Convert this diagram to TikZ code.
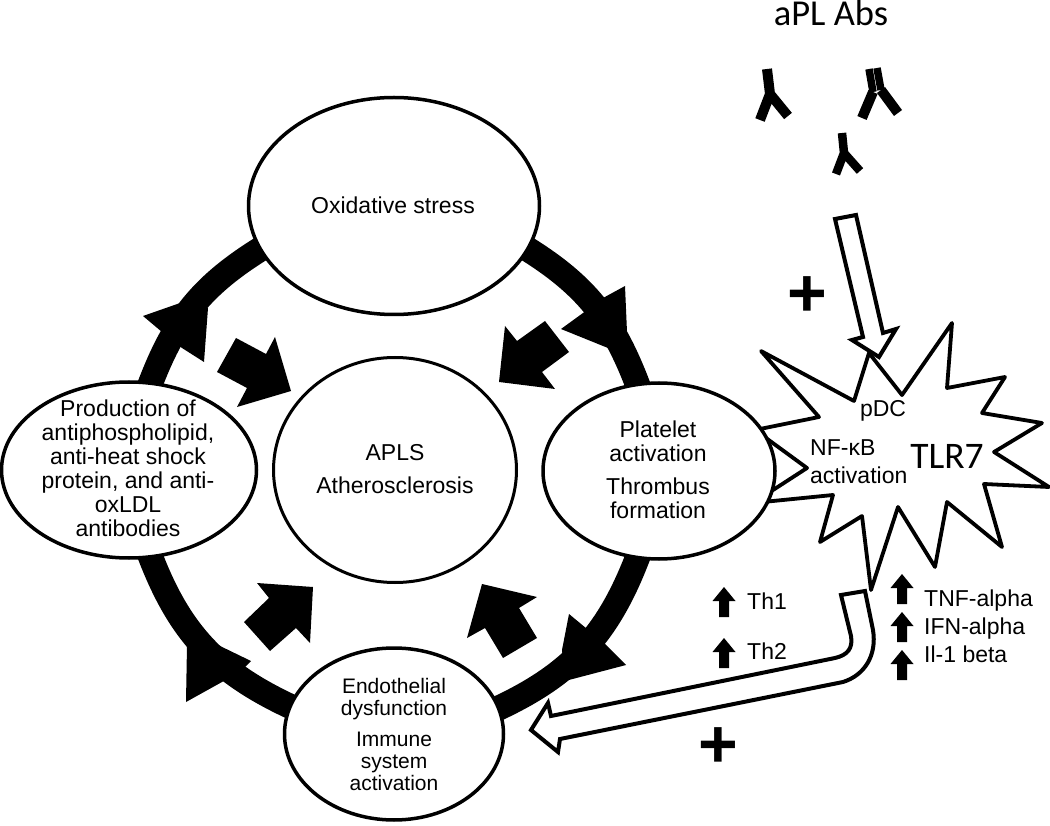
\documentclass[tikz,border=0pt]{standalone}
\usepackage{fontspec}
\setmainfont{Liberation Sans}
\newfontfamily\calibri{Carlito}
\usetikzlibrary{shapes.geometric,backgrounds}
\tikzset{
    ellnode/.style={ellipse,draw=black,fill=white,line width=3.5pt,inner sep=0pt},
    txt/.style={font=\fontsize{23}{24}\selectfont,align=center,inner sep=0pt},
    bigtxt/.style={font=\calibri\fontsize{36.5}{38}\selectfont,inner sep=0pt,anchor=base},
    plussign/.style={font=\bfseries\fontsize{68}{68}\selectfont,inner sep=0pt},
    ringarc/.style={line width=25pt,draw=black,shorten <=-12pt,shorten >=-12pt},
    openarr/.style={draw=black,fill=white,line width=4pt,line join=miter,miter limit=4},
    antibody/.style={draw=black,line width=10pt,line join=round},
    uparr/.pic={\fill[black] (0,0) -- (11.5,14) -- (5,14) -- (5,30) -- (-5,30) -- (-5,14) -- (-11.5,14) -- cycle;},
}
\begin{document}
\begin{tikzpicture}[x=1pt,y=-1pt]
    \useasboundingbox (0,0) rectangle (1050,826);

    % Define nodes
    \node[ellnode,minimum width=291pt,minimum height=217pt] (oxid) at (394,206) {};
    \node[ellnode,minimum width=232pt,minimum height=176pt] (plat) at (659,471) {};
    \node[ellnode,minimum width=219pt,minimum height=172pt] (endo) at (394,734) {};
    \node[ellnode,minimum width=255pt,minimum height=176pt] (prod) at (129,470) {};
    \node[ellnode,line width=3pt,minimum width=243pt,minimum height=225pt] (apls) at (395,470) {};

    % Texts of the ellipses
    \node[txt,anchor=base] (oxidtxt) at (393,214) {Oxidative stress};
    \node[txt] (plattxt) at (658,470) {Platelet\\activation\\[9pt]Thrombus\\formation};
    \node[txt,font=\fontsize{21}{22}\selectfont] (endotxt) at (394,734) {Endothelial\\dysfunction\\[9pt]Immune\\system\\activation};
    \node[txt] (prodtxt) at (128,468.5) {Production of\\antiphospholipid,\\anti-heat shock\\protein, and anti-\\oxLDL\\antibodies};
    \node[txt] (aplstxt) at (395,469) {APLS\\[9pt]Atherosclerosis};

    % Draw the ring
    \begin{scope}[on background layer]
        \draw[ringarc] (oxid.-18) to[out=-31,in=110] (plat.104);
        \draw[ringarc] (plat.-104) to[out=-110,in=24] (endo.14);
        \draw[ringarc] (endo.165) to[out=156,in=-70] (prod.-76);
        \draw[ringarc] (prod.76) to[out=70,in=211] (oxid.198);

        % Heads on the ring
        \fill[black] (625,286) -- (603,298) -- (583,313) -- (561,329) -- (608,348) -- (627,332) -- cycle;
        \fill[black] (569,614) -- (604,643) -- (626,665) -- (565,681) -- (562,650) -- cycle;
        \fill[black] (186,702) -- (187,645) -- (218,645) -- (251,661) -- (245,667) -- (222,682) -- cycle;
        \fill[black] (143,316) -- (183,302) -- (208,308) -- (204,362) -- (182,348) -- (162,332) -- cycle;

        % TLR7 star
        \draw[fill=white,line width=3.8pt,line join=round] (755,430) -- (819,417) -- (761,351) -- (854,401) -- (869,353) -- (902,395) -- (952,323)
            -- (947,388) -- (1005,377) -- (982,413) -- (1042,423) -- (994,452) -- (1049,487) -- (984,484)
            -- (1002,547) -- (947,502) -- (935,567) -- (898,507) -- (871,590) -- (862,516) -- (820,542)
            -- (833,495) -- (753,503) -- (807,468) -- cycle;
    \end{scope}

    % Block arrows towards the centre
    \fill[black] (499,382) -- (505,326) -- (517,341) -- (545,321) -- (569,352) -- (542,372) -- (555,389) -- cycle;
    \fill[black] (291,391) -- (275,337) -- (266,354) -- (236,338) -- (217,372) -- (247,388) -- (237,407) -- cycle;
    \fill[black] (313,587) -- (257,583) -- (269,598) -- (244,622) -- (270,651) -- (296,628) -- (310,643) -- cycle;
    \fill[black] (482,584) -- (537,597) -- (519,608) -- (537,638) -- (503,658) -- (485,628) -- (467,638) -- cycle;

    % Star texts
    \node[txt,anchor=base] (pdc) at (883,416) {pDC};
    \node[txt,align=left,font=\fontsize{23}{28}\selectfont,anchor=north west] (nfkb) at (810,439) {NF-κB\\activation};
    \node[bigtxt,font=\calibri\fontsize{37.5}{38}\selectfont] (tlr) at (947,468) {TLR7};

    % Antibodies
    \node[bigtxt] (apl) at (831,26) {aPL Abs};
    \draw[antibody] (767,69) -- (770,94) -- (760,120) (770,94) -- (788,116);
    \draw[antibody,line width=8.5pt] (842,133) -- (844,153) -- (836,174) (844,153) -- (860,171);
    \draw[antibody,line width=7.5pt] (869,69) -- (873,92);
    \draw[antibody] (873,92) -- (862,118);
    \draw[antibody,line width=7.5pt] (877,68) -- (881,90);
    \draw[antibody] (881,90) -- (898,113);

    % Open arrows
    \draw[openarr] (835,219) -- (856,215) -- (883,333) -- (896,329) -- (879,357) -- (852,340) -- (863,337) -- cycle;
    \draw[openarr] (841,595) -- (865,591) -- (873,630) .. controls (877,655) and (865,675) .. (843,682)
        -- (560,739) -- (558,752) -- (531,730) -- (548,703) -- (551,716) -- (835,658)
        .. controls (848,655) and (853,648) .. (851,636) -- cycle;

    \node[plussign] (plusa) at (807,297) {+};
    \node[plussign] (plusb) at (718,748) {+};

    % Small arrows and their labels
    \pic at (724,587) {uparr};
    \pic at (724,638) {uparr};
    \pic at (902,574) {uparr};
    \pic at (902,612) {uparr};
    \pic at (902,650) {uparr};
    \node[txt,anchor=base west] (thone) at (747,609) {Th1};
    \node[txt,anchor=base west] (thtwo) at (747,659) {Th2};
    \node[txt,anchor=base west] (tnf) at (924,606) {TNF-alpha};
    \node[txt,anchor=base west] (ifn) at (924,634) {IFN-alpha};
    \node[txt,anchor=base west] (ilb) at (924,662) {Il-1 beta};
\end{tikzpicture}
\end{document}
